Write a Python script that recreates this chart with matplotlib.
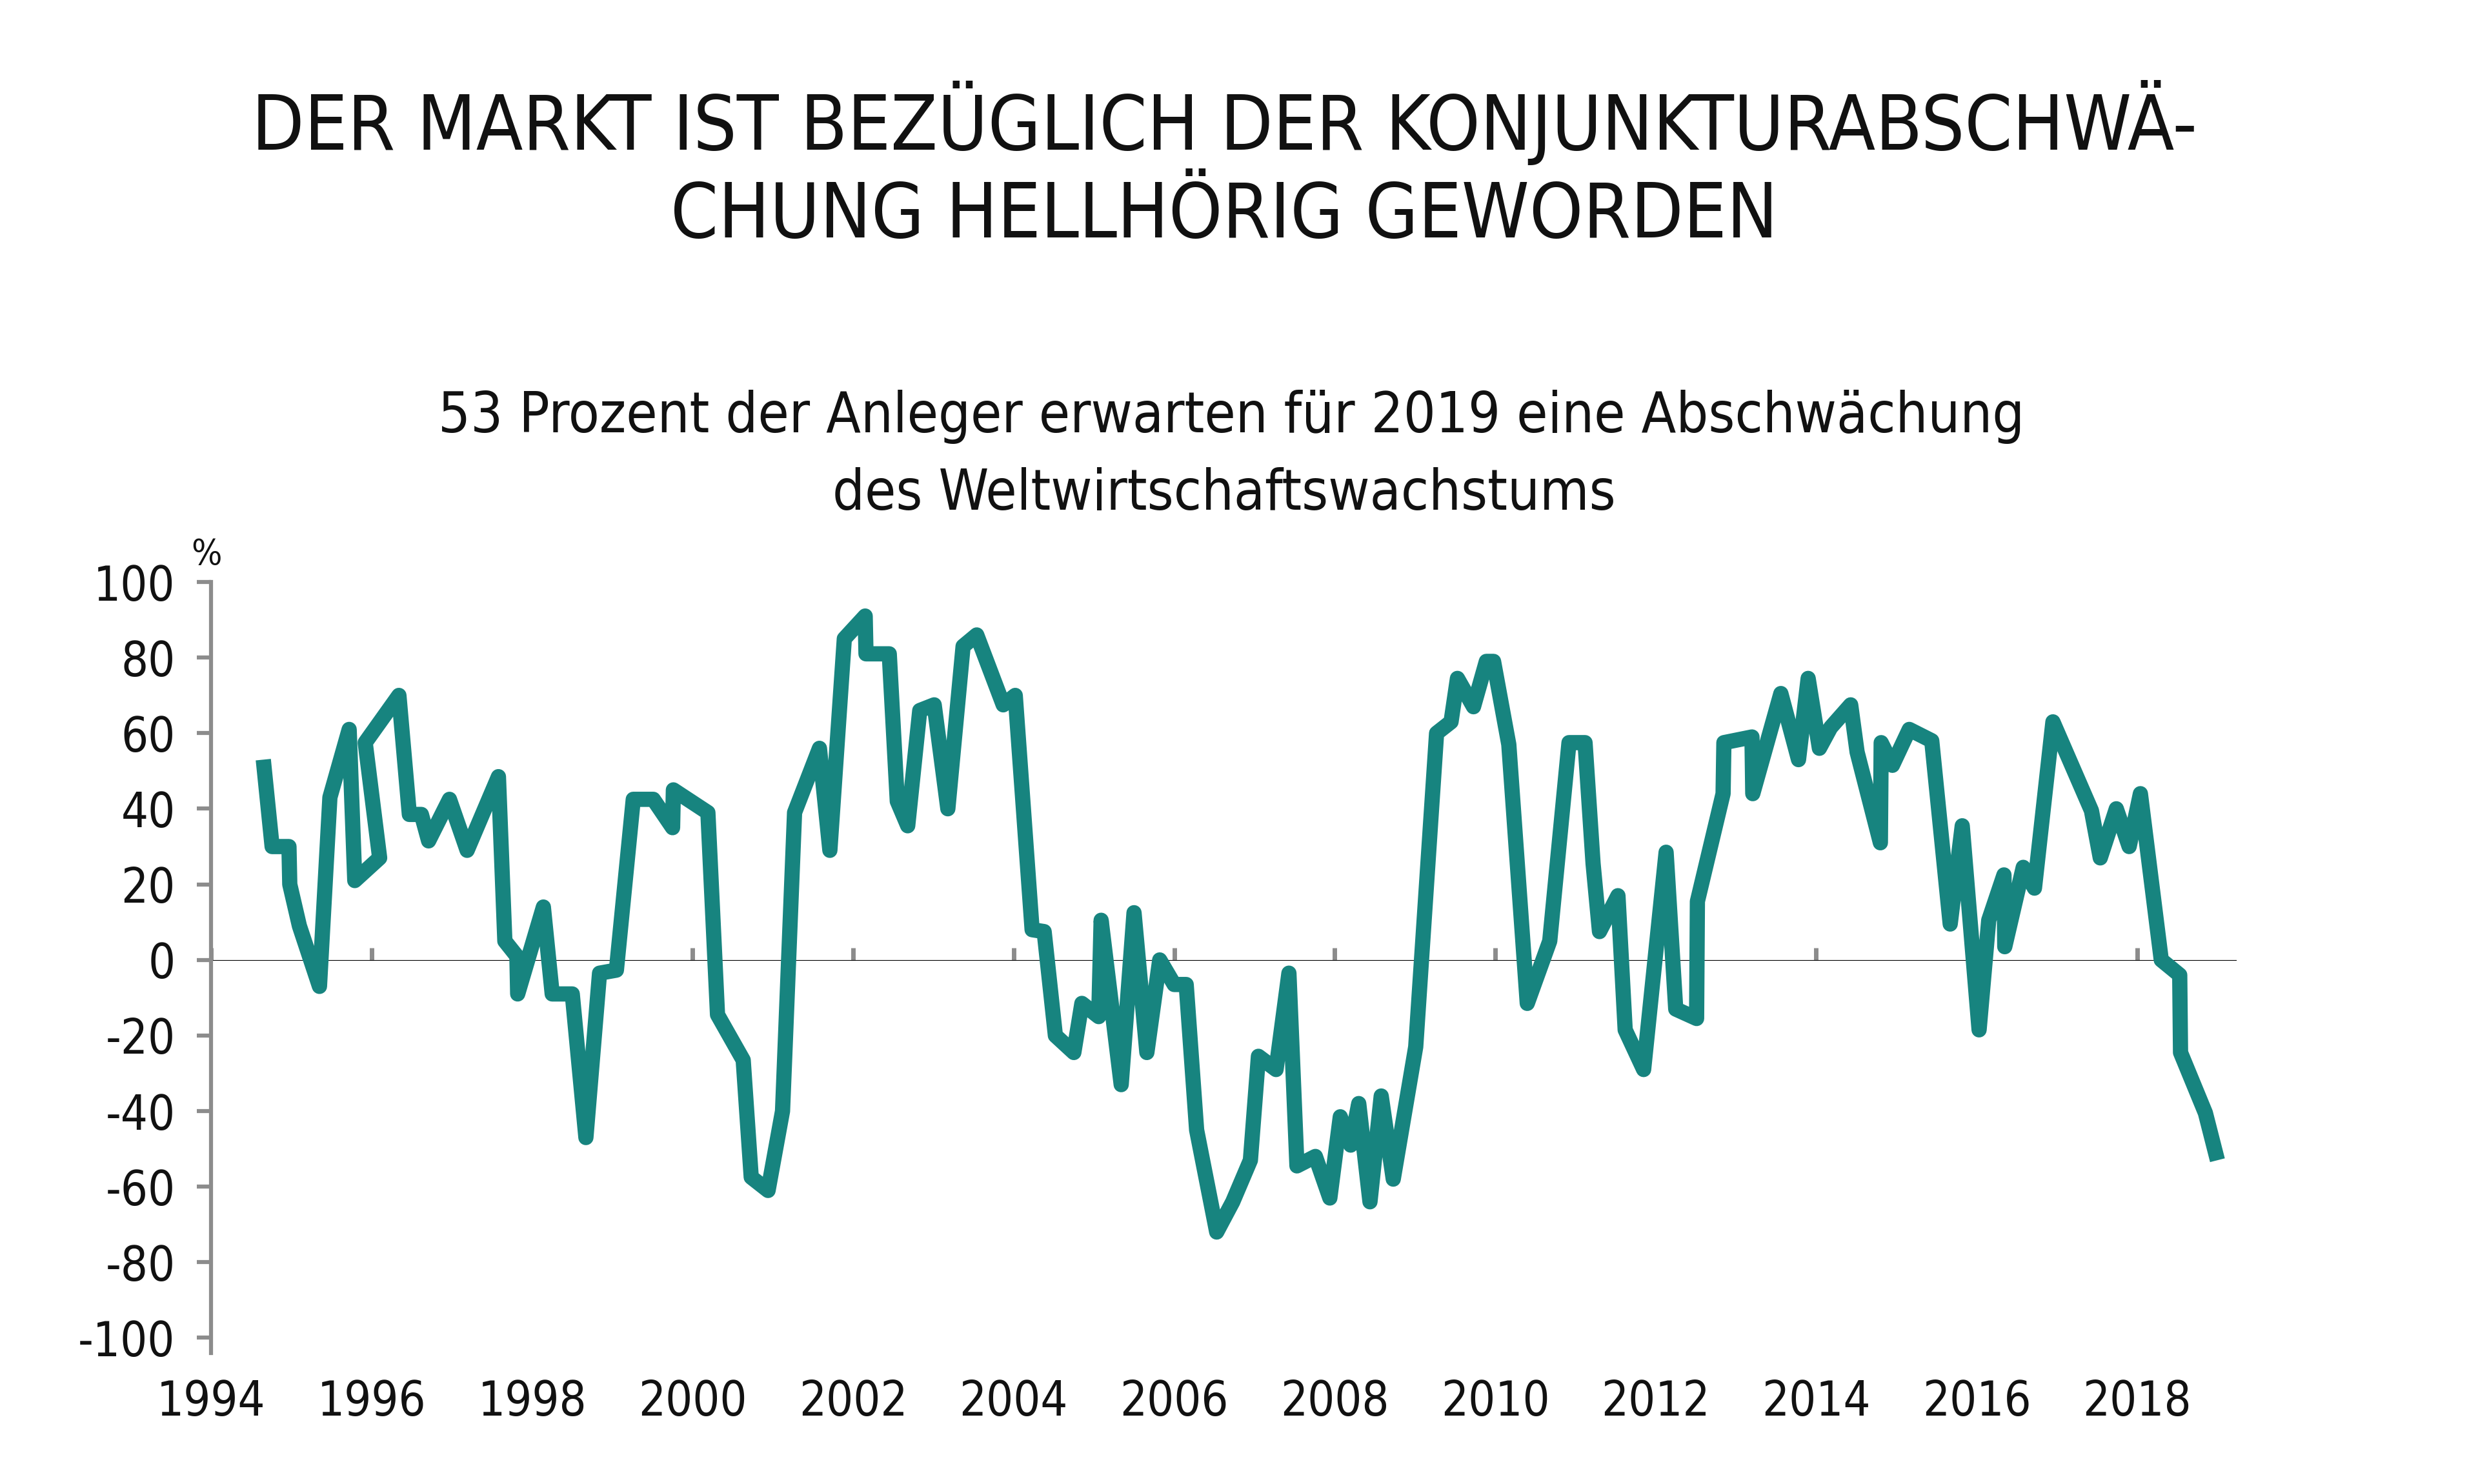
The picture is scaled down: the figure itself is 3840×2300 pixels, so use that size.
import matplotlib
matplotlib.use('Agg')
import matplotlib.pyplot as plt

# Umfrage: Erwartung Weltwirtschaftswachstum (Saldo in %)
dates = [1994.65, 1994.76, 1994.97, 1994.98, 1995.10, 1995.35, 1995.48, 1995.72,
         1995.79, 1996.10, 1995.92, 1996.34, 1996.47, 1996.62, 1996.71, 1996.97,
         1997.19, 1997.58, 1997.66, 1997.81, 1997.82, 1998.14, 1998.25, 1998.50,
         1998.67, 1998.84, 1999.05, 1999.26, 1999.51, 1999.75, 1999.76, 2000.19,
         2000.31, 2000.63, 2000.73, 2000.94, 2001.12, 2001.27, 2001.58, 2001.71,
         2001.89, 2002.15, 2002.16, 2002.45, 2002.55, 2002.68, 2002.83, 2003.01,
         2003.18, 2003.37, 2003.54, 2003.87, 2004.02, 2004.23, 2004.38, 2004.52,
         2004.75, 2004.85, 2005.06, 2005.09, 2005.34, 2005.50, 2005.66, 2005.82,
         2006.00, 2006.15, 2006.28, 2006.53, 2006.73, 2006.95, 2007.05, 2007.27,
         2007.43, 2007.53, 2007.76, 2007.94, 2008.07, 2008.20, 2008.30, 2008.44,
         2008.58, 2008.73, 2009.01, 2009.27, 2009.45, 2009.53, 2009.73, 2009.89,
         2009.98, 2010.17, 2010.40, 2010.68, 2010.92, 2011.12, 2011.22, 2011.30,
         2011.53, 2011.62, 2011.85, 2012.13, 2012.25, 2012.51, 2012.52, 2012.84,
         2012.85, 2013.20, 2013.21, 2013.56, 2013.78, 2013.90, 2014.04, 2014.18,
         2014.43, 2014.51, 2014.80, 2014.81, 2014.95, 2015.16, 2015.44, 2015.67,
         2015.82, 2016.03, 2016.15, 2016.34, 2016.35, 2016.58, 2016.72, 2016.95,
         2017.43, 2017.54, 2017.74, 2017.90, 2018.04, 2018.30, 2018.53, 2018.54,
         2018.85, 2019.00]
values = [53, 30, 30, 20, 9, -7, 43, 61,
          21, 27, 57.5, 70, 38.5, 38.5, 31.5, 42.5,
          29, 48.5, 5, 1, -9, 14, -9, -9,
          -47, -3.5, -2.7, 42.5, 42.5, 35, 45, 39,
          -14.5, -26.5, -57.5, -61, -40, 39, 56, 29,
          85, 91, 81, 81, 42, 35.5, 66, 67.5,
          40, 83, 86, 67.5, 70, 8, 7.5, -20,
          -24.5, -11.5, -15, 10.5, -33, 12.5, -24.5, 0,
          -6.5, -6.5, -45, -72, -64, -53, -25.5, -29,
          -3.5, -54.5, -52, -63, -41.5, -49, -38, -64,
          -36, -58, -23, 60, 63, 74.5, 67, 79,
          79, 57, -11.5, 5, 57.5, 57.5, 25.5, 7.5,
          17, -18.5, -29, 28.5, -13, -15.5, 15.5, 44,
          57.5, 59, 44, 70.5, 53, 74.5, 56, 61.5,
          67.5, 55, 31, 57.5, 51.5, 61, 58, 9.5,
          35.5, -18.5, 10.5, 22.5, 3.5, 24.5, 19, 63,
          39.5, 27, 40, 30, 44, 0, -4, -24.5,
          -40.5, -53]

year_ticks = list(range(1994, 2019, 2))
value_ticks = list(range(-100, 101, 20))

title_lines = ['DER MARKT IST BEZÜGLICH DER KONJUNKTURABSCHWÄ-',
               'CHUNG HELLHÖRIG GEWORDEN']
subtitle_lines = ['53 Prozent der Anleger erwarten für 2019 eine Abschwächung',
                  'des Weltwirtschaftswachstums']

teal = '#17847f'
grey = '#8c8c8c'
ink = '#111111'
plt.rcParams['font.family'] = ['DejaVu Sans']
plt.rcParams['font.stretch'] = 'condensed'
plt.rcParams['axes.unicode_minus'] = False

fig = plt.figure(figsize=(38.4, 23), dpi=100)
ax = fig.add_axes([0.0852, 0.0883, 0.8171, 0.5195])

ax.plot(dates, values, color=teal, linewidth=17,
        solid_joinstyle='round', solid_capstyle='butt')

ax.set_xlim(1994, 2019.23)
ax.set_ylim(-104, 100)
for s in ['top', 'right', 'bottom']:
    ax.spines[s].set_visible(False)
ax.spines['left'].set_color(grey)
ax.spines['left'].set_linewidth(4.5)

ax.set_yticks(value_ticks)
ax.set_xticks(year_ticks)
ax.tick_params(axis='y', colors=grey, length=16, width=4.5, pad=24,
               labelsize=53, labelcolor=ink)
ax.tick_params(axis='x', length=0, pad=29, labelsize=53, labelcolor=ink)

# Nulllinie mit Jahresmarken
zero = ax.secondary_xaxis(104 / 204)
zero.set_xticks(year_ticks)
zero.tick_params(axis='x', direction='out', colors=grey, length=14, width=5,
                 labelbottom=False, labeltop=False)
zero.spines['bottom'].set_color(grey)
zero.spines['bottom'].set_linewidth(4.5)

ax.annotate('%', xy=(0, 1), xycoords='axes fraction', xytext=(-5, 30),
            textcoords='offset points', ha='center', va='center',
            fontsize=40, color=ink)

fig.text(0.494, 0.917, title_lines[0], ha='center', va='center',
         fontsize=85, color=ink)
fig.text(0.494, 0.854, title_lines[1], ha='center', va='center',
         fontsize=85, color=ink)
fig.text(0.497, 0.719, subtitle_lines[0], ha='center', va='center',
         fontsize=63, color=ink)
fig.text(0.494, 0.667, subtitle_lines[1], ha='center', va='center',
         fontsize=63, color=ink)

fig.savefig('out.png', dpi=100, facecolor='white')
